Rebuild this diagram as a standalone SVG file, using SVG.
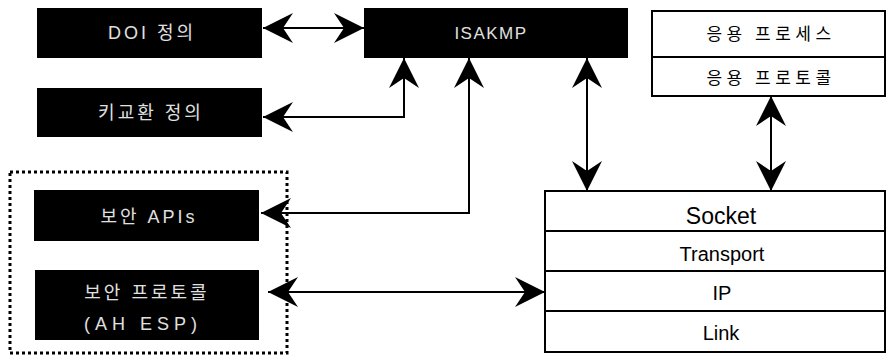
<svg xmlns="http://www.w3.org/2000/svg" width="887" height="356" viewBox="0 0 887 356">
  <style>
    .dark { fill: #000; }
    .dark-text { fill: #e0e0e0; font-family: "Liberation Sans", "Noto Sans CJK KR", sans-serif; font-size: 18px; letter-spacing: 3px; text-anchor: middle; }
    .light { fill: #fff; stroke: #000; stroke-width: 2; }
    .divider { stroke: #000; stroke-width: 2; }
    .label { fill: #000; font-family: "Liberation Sans", "Noto Sans CJK KR", sans-serif; font-size: 20px; text-anchor: middle; }
    .kr { font-family: "Noto Sans CJK KR", sans-serif; font-size: 17px; letter-spacing: 4.5px; }
    .wire { fill: none; stroke: #000; stroke-width: 2; marker-start: url(#head); marker-end: url(#head); }
    .group-frame { fill: none; stroke: #000; stroke-width: 3; stroke-dasharray: 3 3; }
  </style>
  <defs>
    <marker id="head" viewBox="-31 -16 32 32" refX="0" refY="0" markerWidth="32" markerHeight="32" markerUnits="userSpaceOnUse" orient="auto-start-reverse">
      <path d="M0,0 L-30,-15 L-20,0 L-30,15 Z" fill="#000"/>
    </marker>
  </defs>

  <rect width="887" height="356" fill="#fff"/>

  <!-- dotted frame around the security API / protocol blocks -->
  <rect class="group-frame" x="10" y="172" width="277" height="181"/>

  <g id="doi">
    <rect class="dark" x="37" y="8" width="225" height="50"/>
    <text class="dark-text" x="152" y="39">DOI 정의</text>
  </g>

  <g id="key-exchange">
    <rect class="dark" x="37" y="88" width="225" height="49"/>
    <text class="dark-text" x="151" y="119">키교환 정의</text>
  </g>

  <g id="isakmp">
    <rect class="dark" x="364" y="8" width="264" height="50"/>
    <text class="dark-text" x="491" y="39" style="font-size:17px;letter-spacing:1.5px">ISAKMP</text>
  </g>

  <g id="security-apis">
    <rect class="dark" x="34" y="190" width="225" height="51"/>
    <text class="dark-text" x="149" y="223">보안 APIs</text>
  </g>

  <g id="security-protocol">
    <rect class="dark" x="35" y="270" width="224" height="70"/>
    <text class="dark-text" x="147" y="299">보안 프로토콜</text>
    <text class="dark-text" x="143" y="330" style="letter-spacing:5px">(AH ESP)</text>
  </g>

  <g id="application">
    <rect class="light" x="652" y="11" width="233" height="85"/>
    <line class="divider" x1="652" y1="57" x2="885" y2="57"/>
    <text class="label kr" x="771" y="40">응용 프로세스</text>
    <text class="label kr" x="771" y="84">응용 프로토콜</text>
  </g>

  <g id="stack">
    <rect class="light" x="545" y="191" width="340" height="161"/>
    <line class="divider" x1="545" y1="231" x2="885" y2="231"/>
    <line class="divider" x1="545" y1="271" x2="885" y2="271"/>
    <line class="divider" x1="545" y1="311" x2="885" y2="311"/>
    <text class="label" x="721" y="224" style="font-size:23px">Socket</text>
    <text class="label" x="722" y="261">Transport</text>
    <text class="label" x="722" y="300">IP</text>
    <text class="label" x="721" y="340">Link</text>
  </g>

  <g id="connectors">
    <path class="wire" d="M263,28 L364,28"/>
    <path class="wire" d="M263,117 L404,117 L404,58"/>
    <path class="wire" d="M469,58 L469,213 L261,213"/>
    <path class="wire" d="M587,58 L587,191"/>
    <path class="wire" d="M771,96 L771,191"/>
    <path class="wire" d="M268,292 L545,292"/>
  </g>
</svg>
